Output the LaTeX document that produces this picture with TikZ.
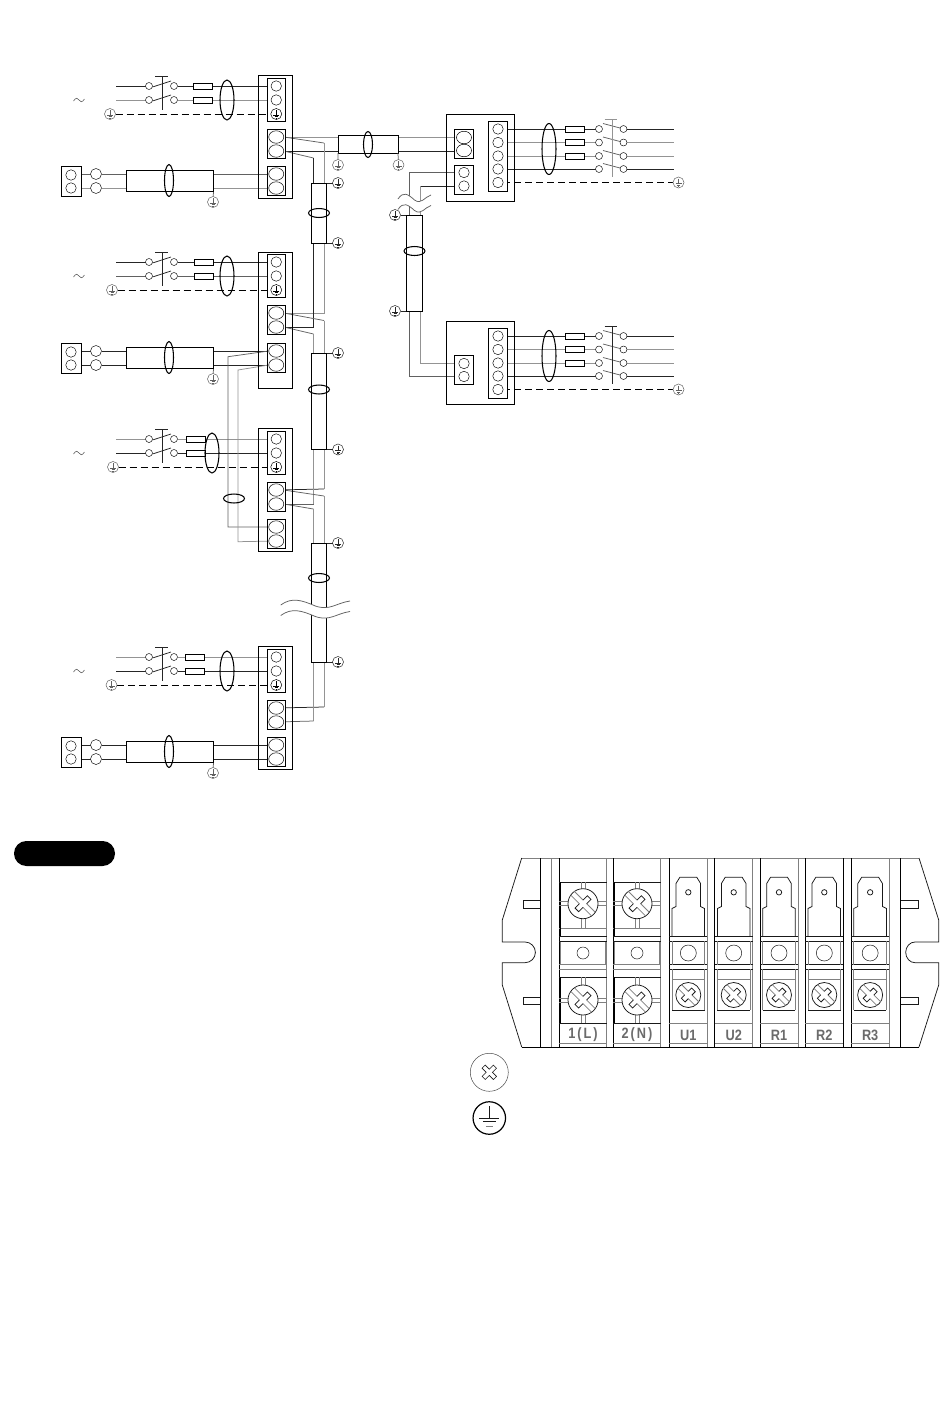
\documentclass[tikz,border=0pt]{standalone}
\usepackage{fontspec}
\usetikzlibrary{shapes.geometric}
\newfontfamily\lblfont{Liberation Sans}
\newfontfamily\lblwide[LetterSpace=16]{Liberation Sans}
\pgfdeclarelayer{wires}
\pgfsetlayers{wires,main}
\colorlet{wa}{black!85}
\colorlet{wb}{black!42}
\colorlet{wc}{black!62}
\tikzset{
  base/.style={line width=.75pt},
  blockbox/.style={rectangle,draw,fill=white,inner sep=0,outer sep=0,line width=1pt},
  ubox/.style={rectangle,draw,inner sep=0,outer sep=0,line width=1pt},
  cablebox/.style={rectangle,draw,fill=white,inner sep=0,outer sep=0,line width=1pt},
  tc/.style={circle,draw,fill=white,inner sep=0,outer sep=0,minimum size=10.5pt,line width=.45pt},
  te/.style={ellipse,draw,fill=white,inner sep=0,outer sep=0,minimum width=15pt,minimum height=12.5pt,line width=.5pt},
  swc/.style={circle,draw,fill=white,inner sep=0,outer sep=0,minimum size=7pt,line width=.45pt},
  fuse/.style={rectangle,draw,fill=white,inner sep=0,outer sep=0,minimum width=19pt,minimum height=6pt,line width=.8pt},
  oval/.style={ellipse,draw,inner sep=0,outer sep=0,line width=1.05pt},
  gsym/.style={circle,draw=#1,fill=white,inner sep=0,outer sep=0,minimum size=11pt,line width=.5pt,
    path picture={\coordinate (pc) at (path picture bounding box.center);
      \draw[#1,line width=.6pt] (pc) ++(0,-4) -- ++(0,5) ++(-3,0) -- ++(6,0) ++(-4.5,1.5) -- ++(3,0) ++(-2.2,1.5) -- ++(1.4,0);}},
  dashw/.style={line width=.8pt,dash pattern=on 7pt off 4pt},
  bl/.style={line width=.75pt,black!90},
  gl/.style={line width=.75pt,black!50},
  celllabel/.style={black!58,xscale=.85,inner sep=0},
}
\newcommand{\boxnode}[6][]{%
  \pgfmathsetmacro\myw{(#5)-(#3)}\pgfmathsetmacro\myh{(#6)-(#4)}%
  \pgfmathsetmacro\myx{((#3)+(#5))/2}\pgfmathsetmacro\myy{((#4)+(#6))/2}%
  \node[minimum width=\myw pt,minimum height=\myh pt,#1] (#2) at (\myx,\myy) {};}
% unit terminals: prefix, outer top, outer bottom, block tops
\newcommand{\unit}[6]{%
  \boxnode[ubox]{#1-box}{258.5}{#2}{292}{#3}
  \pgfmathsetmacro\ybt{#4+43}\boxnode[blockbox]{#1-b1}{267}{#4}{285.5}{\ybt}
  \pgfmathsetmacro\ybt{#5+29}\boxnode[blockbox]{#1-b2}{267}{#5}{285.5}{\ybt}
  \pgfmathsetmacro\ybt{#6+29}\boxnode[blockbox]{#1-b3}{267}{#6}{285.5}{\ybt}
  \node[te] (#1-r1) at (276.25,#6+8) {};
  \node[te] (#1-r2) at (276.25,#6+22) {};
  \node[tc] (#1-ta) at (276.25,#4+8) {};
  \node[tc] (#1-tb) at (276.25,#4+22) {};
  \node[gsym=black] (#1-tg) at (276.25,#4+36) {};
  \node[te] (#1-m1) at (276.25,#5+8) {};
  \node[te] (#1-m2) at (276.25,#5+22) {};}
% mains feed: prefix, ya, yb, y ground, x ground, fuse left, oval x, colours
\newcommand{\feed}[9]{%
  \coordinate (#1-ia) at (116,#2);
  \coordinate (#1-ib) at (116,#3);
  \node[swc] (#1-sa) at (149,#2) {};
  \node[swc] (#1-sb) at (149,#3) {};
  \node[swc] (#1-ra) at (174,#2) {};
  \node[swc] (#1-rb) at (174,#3) {};
  \node[fuse] (#1-fa) at (#6+9.5,#2) {};
  \node[fuse] (#1-fb) at (#6+9.5,#3) {};
  \node[oval,minimum width=14pt,minimum height=40pt] (#1-ov) at (#7,#3) {};
  \node[gsym=wc] (#1-g) at (#5,#4) {};
  \draw[base,wa] (152.5,#2+1) -- (171,#2-5) (152.5,#3+1) -- (171,#3-5);
  \draw[base,wa] (162,#2-10) -- (162,#3+10) (155,#2-10) -- (168,#2-10);
  \draw[wc,line width=.6pt] (73.5,#3+1) .. controls (76,#3-3) and (78,#3-2) .. (79,#3) .. controls (80,#3+2) and (82,#3+3) .. (84.5,#3-1);
  \begin{pgfonlayer}{wires}
    \draw[base,#8] (#1-ia) -- (#1-sa) (#1-ra) -- (#1-ra -| #1-ta);
    \draw[base,#9] (#1-ib) -- (#1-sb) (#1-rb) -- (#1-rb -| #1-tb);
    \draw[dashw] (#1-g) -- (#1-g -| #1-tg);
  \end{pgfonlayer}}
% remote controller: prefix, unit, y of first wire, colours
\newcommand{\remote}[5]{%
  \boxnode[blockbox]{#1-lb}{61}{#3-8}{81}{#3+22}
  \node[tc] (#1-la) at (71,#3+1) {};
  \node[tc] (#1-lc) at (71,#3+14) {};
  \node[tc,minimum size=11pt] (#1-ma) at (96,#3) {};
  \node[tc,minimum size=11pt] (#1-mb) at (96,#3+14) {};
  \boxnode[cablebox]{#1-cb}{126}{#3-4}{213.5}{#3+17}
  \node[oval,minimum width=9pt,minimum height=32pt] (#1-ov) at (169,#3+6.5) {};
  \node[gsym=wc] (#1-g) at (213,#3+28) {};
  \begin{pgfonlayer}{wires}
    \draw[base,#4] (#1-ma -| #1-la) -- (#1-ma) -- (#2-r1);
    \draw[base,#5] (#1-mb -| #1-lc) -- (#1-mb) -- (#2-r2);
    \draw[base,wc] (#1-cb.south east) -- (#1-g);
  \end{pgfonlayer}}
% vertical trunk cable: name, top, bottom
\newcommand{\trunk}[3]{%
  \boxnode[cablebox]{#1}{311}{#2}{326.7}{#3}
  \node[gsym=wa] (#1-gt) at (338,#2) {};
  \node[gsym=wa] (#1-gb) at (338,#3) {};
  \draw[base,wa] (#1.north east) -- (#1-gt) (#1.south east) -- (#1-gb);}
% outdoor unit rows
\newcommand{\outdoor}[5]{%
  % prefix, y0, outer top, outer bottom, bar colour
  \boxnode[ubox]{#1-box}{446}{#3}{514}{#4}
  \boxnode[blockbox]{#1-rb}{488}{#2-8}{507}{#2+62}
  \foreach \n/\dy/\col/\fu in {1/0/wa/1,2/13.5/wb/1,3/27/wb/1,4/40/wa/0}{%
    \node[tc] (#1-t\n) at (498,#2+\dy) {};
    \node[swc] (#1-sa\n) at (599,#2+\dy) {};
    \node[swc] (#1-sb\n) at (623.5,#2+\dy) {};
    \coordinate (#1-e\n) at (674,#2+\dy);
    \ifnum\fu=1 \node[fuse] (#1-f\n) at (574.5,#2+\dy) {};\fi
    \draw[base,wc] (603,#2+\dy-5.5) -- (620,#2+\dy-1);
    \begin{pgfonlayer}{wires}
      \draw[base,\col] (#1-t\n) -- (#1-sa\n) (#1-sb\n) -- (#1-e\n);
    \end{pgfonlayer}
  }
  \node[tc] (#1-t5) at (498,#2+53.5) {};
  \node[gsym=wc] (#1-g) at (678.5,#2+53.5) {};
  \begin{pgfonlayer}{wires}\draw[dashw] (#1-t5) -- (#1-g);\end{pgfonlayer}
  \node[oval,minimum width=14pt,minimum height=51pt] (#1-ov) at (549,#2+20) {};
  \draw[base,#5] (612,#2-10) -- (612,#2+48) (604.5,#2-10) -- (617,#2-10);}
% wave break
\newcommand{\breakwave}[3]{% x0, y, x1
  \pgfmathsetmacro\dwx{(#3-#1)/2}
  \fill[white] (#1,#2) .. controls (#1+.32*\dwx,#2-8) and (#1+.6*\dwx,#2-5) .. (#1+\dwx,#2+1) .. controls (#1+1.42*\dwx,#2+6) and (#1+1.6*\dwx,#2-2) .. (#3,#2-4) -- (#3,#2+6.5) .. controls (#1+1.6*\dwx,#2+8.5) and (#1+1.42*\dwx,#2+16.5) .. (#1+\dwx,#2+11.5) .. controls (#1+.6*\dwx,#2+5.5) and (#1+.32*\dwx,#2+2.5) .. (#1,#2+10.5) -- cycle;
  \draw[base,wc] (#1,#2) .. controls (#1+.32*\dwx,#2-8) and (#1+.6*\dwx,#2-5) .. (#1+\dwx,#2+1) .. controls (#1+1.42*\dwx,#2+6) and (#1+1.6*\dwx,#2-2) .. (#3,#2-4);
  \draw[base,wc] (#1,#2+10.5) .. controls (#1+.32*\dwx,#2+2.5) and (#1+.6*\dwx,#2+5.5) .. (#1+\dwx,#2+11.5) .. controls (#1+1.42*\dwx,#2+16.5) and (#1+1.6*\dwx,#2+8.5) .. (#3,#2+6.5);}
% screw head
\newcommand{\screwhead}[3]{%
  \pgfmathsetmacro\sr{sqrt(#3*#3-7)}\pgfmathsetmacro\sa{.58*#3}
  \draw[bl,fill=white] (#1,#2) circle[radius=#3];
  \begin{scope}[shift={(#1,#2)},rotate=-45]
    \draw[gl] (-\sr,-2.6) -- (-2.6,-2.6) (2.6,-2.6) -- (\sr,-2.6) (-\sr,2.6) -- (-2.6,2.6) (2.6,2.6) -- (\sr,2.6);
    \draw[bl] (-2.6,-2.6) -- (-2.6,-\sa) -- (2.6,-\sa) -- (2.6,-2.6) (-2.6,2.6) -- (-2.6,\sa) -- (2.6,\sa) -- (2.6,2.6);
  \end{scope}}
\newcommand{\bigcell}[4]{%
  \pgfmathsetmacro\cxx{(#1+#2)/2}
  \draw[gl] (#1,928.7) -- (#2,928.7) (#1,964.3) -- (#2,964.3) (#1,969.3) -- (#2,969.3) (#1,1043) -- (#2,1043);
  \draw[gl] (#1+1,941.3) -- (#1+1,964.3) (#2-1,941.3) -- (#2-1,964.3);
  \draw[bl] (#1,882.3) -- (#2,882.3) (#1,936) -- (#2,936) (#1,941.3) -- (#2,941.3) (#1,977.3) -- (#2,977.3) (#1,1023) -- (#2,1023);
  \draw[line width=1pt] (#1+1,882.3) -- (#1+1,936) (#1+1,977.3) -- (#1+1,1023);
  \foreach \cyy/\ytt/\ybb in {903.7/882.3/928.7,1000/977.3/1023}{%
    \draw[gl] (\cxx-2,\ytt) -- (\cxx-2,\ybb) (\cxx+2,\ytt) -- (\cxx+2,\ybb) (#1,\cyy-2) -- (#2,\cyy-2) (#1,\cyy+2) -- (#2,\cyy+2);
    \screwhead{\cxx}{\cyy}{15}}
  \draw[bl,line width=.5pt] (\cxx,953) circle[radius=6];
  \node[celllabel] (#3) at (\cxx,1035) {\fontsize{15}{15}\lblwide\bfseries #4};}
\newcommand{\smallcell}[4]{%
  \pgfmathsetmacro\cxx{(#1+#2)/2}
  \draw[bl] (\cxx-16.3,936) -- (\cxx-16.3,908.5) -- (\cxx-12.3,906.5) -- (\cxx-12.3,883.5) -- (\cxx-8.5,877.3) -- (\cxx+8.5,877.3) -- (\cxx+12.3,883.5) -- (\cxx+12.3,906.5) -- (\cxx+16.3,908.5) -- (\cxx+16.3,936);
  \draw[bl] (\cxx,892.3) circle[radius=2.7];
  \draw[bl] (#1,936) -- (#2,936) (#1,941.3) -- (#2,941.3) (#1,964.7) -- (#2,964.7) (#1,969.3) -- (#2,969.3) (\cxx-16.3,1010) -- (\cxx+16.3,1010);
  \draw[gl] (\cxx-16.3,941.3) -- (\cxx-16.3,964.7) (\cxx+16.3,941.3) -- (\cxx+16.3,964.7) (\cxx-16.3,969.3) -- (\cxx-16.3,1010) (\cxx+16.3,969.3) -- (\cxx+16.3,1010) (\cxx-16.3,979.3) -- (\cxx+16.3,979.3) (#1,1023) -- (#2,1023) (#1,1043) -- (#2,1043);
  \draw[bl,line width=.5pt] (\cxx,953) circle[radius=8];
  \screwhead{\cxx}{995}{12.5}
  \node[celllabel] (#3) at (\cxx,1035) {\fontsize{15}{15}\lblfont\bfseries #4};}
\begin{document}
\begin{tikzpicture}[x=1pt,y=-1pt]
\begin{pgfonlayer}{wires}
\fill[white] (0,0) rectangle (950,1409);
\end{pgfonlayer}
\useasboundingbox (0,0) rectangle (950,1409);
% indoor units
\unit{u1}{75}{198}{78}{129}{166}
\unit{u2}{252}{388}{254}{305}{343}
\unit{u3}{428}{551.6}{431}{482}{519}
\unit{u4}{646.7}{769}{649}{700}{737}
\feed{u1}{86}{100}{114}{110}{193}{227}{wa}{wb}
\feed{u2}{262}{276}{290}{112}{194}{227}{wa}{wc}
\feed{u3}{439}{453}{467}{113}{186}{212}{wb}{wa}
\feed{u4}{657}{671}{685}{111.5}{185}{227}{wb}{wa}
\remote{a1}{u1}{174}{wc}{wb}
\remote{a2}{u2}{351}{wa}{wa}
\remote{a4}{u4}{745}{wa}{wa}
% trunk cables
\trunk{c1}{183}{243}
\trunk{c2}{353}{449.5}
\trunk{c3}{543}{662}
\node[oval,minimum width=21pt,minimum height=9pt] (c1-ov) at (319,213) {};
\node[oval,minimum width=21pt,minimum height=9pt] (c2-ov) at (319,389.5) {};
\node[oval,minimum width=21pt,minimum height=9pt] (c3-ov) at (319,578) {};
\node[oval,minimum width=21pt,minimum height=9pt] (a3-ov) at (234,498.5) {};
\foreach \nm/\px/\py in {k1/324/143,j1/324/313,k2/313.5/158,j2/313.5/327,k3/324/320.5,j3/324/489,k4/313.5/334,j4/313.5/504,k5/324/496,j5/324/707,k6/313.5/509,j6/313.5/721,k7/228/356.7,j7/228/527,k8/238/370,j8/238/541.7,v1/409.3/172.5,v2/420/186,v3/409.3/376.5,v4/420/363.5}{\coordinate (\nm) at (\px,\py);}
% right-hand cable
\boxnode[cablebox]{rc}{338}{135}{398}{153}
\node[oval,minimum width=9pt,minimum height=26pt] (rc-ov) at (368,144.5) {};
\node[gsym=wc] (rc-gl) at (338,165) {};
\node[gsym=wc] (rc-gr) at (398.5,165) {};
\draw[base,wc] (rc.south west) -- (rc-gl) (rc.south east) -- (rc-gr);
% outdoor units
\outdoor{o1}{129}{114}{201}{wb}
\outdoor{o2}{336}{321}{404}{wa}
\boxnode[blockbox]{o1-ba}{454}{129}{473.7}{158}
\node[te] (o1-a) at (464,137.5) {};
\node[te] (o1-b) at (464,150.5) {};
\boxnode[blockbox]{o1-bb}{454}{165}{473.7}{194.7}
\node[tc] (o1-c) at (464,172.5) {};
\node[tc] (o1-d) at (464,186) {};
\boxnode[blockbox]{o2-bb}{454}{355}{473.7}{384}
\node[tc] (o2-c) at (464,363.5) {};
\node[tc] (o2-d) at (464,376.5) {};
% vertical outdoor cable
\boxnode[cablebox]{vc}{406}{215}{422.7}{311}
\node[oval,minimum width=21pt,minimum height=9pt] (vc-ov) at (414.5,251) {};
\node[gsym=wa] (vc-gt) at (395,215) {};
\node[gsym=wa] (vc-gb) at (395,311) {};
\draw[base,wa] (vc.north west) -- (vc-gt) (vc.south west) -- (vc-gb);
\begin{pgfonlayer}{wires}
  \draw[base,wb] (u1-m1) -- (u1-m1 -| o1-a);
  \draw[base,wa] (u1-m2) -- (u1-m2 -| o1-b);
  \draw[base,wc] (u1-m1.east) -- (k1);
  \draw[base,wb] (k1) -- (j1) -- (u2-m1);
  \draw[base,wc] (u1-m2.east) -- (k2);
  \draw[base,wa] (k2) -- (j2) -- (u2-m2);
  \draw[base,wc] (u2-m1.east) -- (k3);
  \draw[base,wb] (k3) -- (j3);
  \draw[base,wa] (j3) -- (u3-m1);
  \draw[base,wc] (u2-m2.east) -- (k4);
  \draw[line width=1.1pt,wb] (k4) -- (j4);
  \draw[base,wc] (j4) -- (u3-m2);
  \draw[base,wc] (u3-m1.east) -- (k5);
  \draw[base,wb] (k5) -- (j5);
  \draw[base,wa] (j5) -- (u4-m1);
  \draw[base,wc] (u3-m2.east) -- (k6);
  \draw[line width=1.1pt,wb] (k6) -- (j6);
  \draw[base,wc] (j6) -- (u4-m2);
  \draw[base,wc] (u2-r1.west) -- (k7) -- (j7) -- (u3-r1);
  \draw[base,wb] (u2-r2.west) -- (k8) -- (j8) -- (u3-r2);
  \draw[base,wc] (o1-c) -- (v1) -- (v3) -- (o2-d);
  \draw[base,wa] (o1-d) -- (v2);
  \draw[base,wb] (v2) -- (v4) -- (o2-c);
\end{pgfonlayer}
% cable breaks
\breakwave{280.7}{605}{350}
\breakwave{398}{199}{431}
% note pill
\boxnode[fill=black,rounded corners=12.4pt]{pill}{14}{841}{115}{866}
% terminal board
\draw[gl] (521.7,858) -- (919,858);
\draw[line width=.9pt] (521.7,1047) -- (919,1047);
\draw[bl] (521.7,858) -- (502.3,920) -- (502.3,942) -- (525,942) arc[start angle=-90,end angle=90,x radius=10.4,y radius=10.35] -- (502.3,962.7) -- (502.3,985) -- (521.7,1047);
\draw[bl] (919,858) -- (938.7,920) -- (938.7,942) -- (915,942) arc[start angle=270,end angle=90,x radius=9.3,y radius=10.35] -- (938.7,962.7) -- (938.7,985) -- (919,1047);
\foreach \yy in {900.7,997}{
  \draw[bl] (540.3,\yy) -- (523.3,\yy) -- (523.3,\yy+7.5) -- (540.3,\yy+7.5);
  \draw[bl] (900.3,\yy) -- (918,\yy) -- (918,\yy+7.5) -- (900.3,\yy+7.5);}
\foreach \xx in {540.3,559.3,613.3,669.3,714.7,760,805.3,843.3,851,900.3}{\draw[line width=.85pt] (\xx,858) -- (\xx,1047);}
\foreach \xx in {551.3,606.7,660.7,707.3,752.7,798,889.3}{\draw[line width=.85pt,black!50] (\xx,858) -- (\xx,1047);}
\bigcell{559.3}{606.7}{tb1}{1(L)}
\bigcell{613.3}{660.7}{tb2}{2(N)}
\smallcell{669.3}{707.3}{tu1}{U1}
\smallcell{714.7}{752.7}{tu2}{U2}
\smallcell{760}{798}{tr1}{R1}
\smallcell{805.3}{843.3}{tr2}{R2}
\smallcell{851}{889.3}{tr3}{R3}
% legend symbols
\node[circle,draw=black!70,inner sep=0,minimum size=38pt,line width=.5pt] (lg-s) at (489.3,1072.3) {};
\begin{scope}[shift={(489.3,1072.3)},rotate=45]
  \draw[bl,line width=.6pt] (-2.2,-2.2) -- (-2.2,-8) -- (2.2,-8) -- (2.2,-2.2) -- (8,-2.2) -- (8,2.2) -- (2.2,2.2) -- (2.2,8) -- (-2.2,8) -- (-2.2,2.2) -- (-8,2.2) -- (-8,-2.2) -- cycle;
\end{scope}
\node[circle,draw,inner sep=0,minimum size=32.5pt,line width=1.2pt] (lg-g) at (489.3,1118) {};
\draw[bl] (lg-g.center) ++(0,-12) -- ++(0,12) ++(-10,0) -- ++(20,0) ++(-16.5,3.5) -- ++(13,0);
\draw[gl,line width=1.4pt] (lg-g.center) ++(-3.5,8.5) -- ++(7,0);
\end{tikzpicture}
\end{document}
